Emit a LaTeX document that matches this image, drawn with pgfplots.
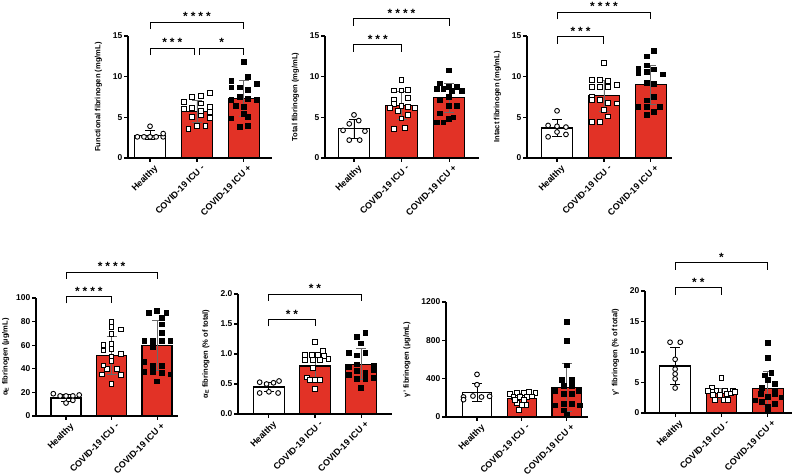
\documentclass[border=0pt]{standalone}
\usepackage{fontspec}
\setmainfont{Liberation Sans}
\usepackage{pgfplots}
\pgfplotsset{compat=1.18}
\definecolor{barred}{RGB}{226,50,38}
\definecolor{errgray}{RGB}{105,105,105}
\newcommand{\stars}[1]{{\fontsize{12}{12}\selectfont\bfseries
  \ifcase#1\or *\or *\kern3pt*\or *\kern3pt*\kern3pt*\or *\kern3pt*\kern3pt*\kern3pt*\fi}}
\pgfplotsset{
  panel/.style={
    scale only axis, clip=false,
    axis x line*=bottom, axis y line*=left,
    axis line style={line width=1.1pt,-},
    every tick/.style={line width=1.1pt,black},
    major tick length=4pt, tick align=outside,
    xtick={0,1,2},
    xticklabels={Healthy,COVID-19 ICU -,COVID-19 ICU +},
    x tick label style={rotate=45,anchor=north east,inner sep=1pt,yshift=-3pt,xshift=2pt,
      font=\fontsize{9}{9}\selectfont\bfseries},
    y tick label style={font=\fontsize{8.5}{9}\selectfont\bfseries,inner sep=1.5pt},
    ylabel style={font=\fontsize{7.6}{9}\selectfont\bfseries,yshift=6pt},
    /pgf/number format/assume math mode=true,
    /pgf/number format/1000 sep={},
    ymin=0,
  },
  hbar/.style={ybar,bar shift=0pt,bar width=0.66,fill=white,draw=black,line width=1.2pt,
    error bars/.cd,y dir=both,y explicit,
    error bar style={line width=0.8pt,black},
    error mark options={rotate=90,mark size=5pt,line width=0.8pt,black}},
  rbar/.style={ybar,bar shift=0pt,bar width=0.66,fill=barred,draw=black,line width=1.2pt,
    error bars/.cd,y dir=both,y explicit,
    error bar style={line width=0.8pt,errgray},
    error mark options={rotate=90,mark size=5pt,line width=0.8pt,errgray}},
  hpts/.style={only marks,mark=*,mark size=2.4pt,mark options={fill=white,draw=black,line width=0.9pt}},
  opts/.style={only marks,mark=square*,mark size=2.4pt,mark options={fill=white,draw=black,line width=0.9pt}},
  fpts/.style={only marks,mark=square*,mark size=2.4pt,mark options={fill=black,draw=black,line width=0.5pt}},
}
\begin{document}
\begin{tikzpicture}
\useasboundingbox (0bp,0bp) rectangle (800bp,475bp);

% ---------- Panel 1: Functional fibrinogen
\begin{axis}[panel, at={(128bp,317bp)}, anchor=south west, width=144bp, height=122bp,
  xmin=-0.47, xmax=2.6, ymax=15, ytick={0,5,10,15},
  ylabel={Functional fibrinogen (mg/mL)}]
\addplot[hbar] coordinates {(0,2.8) +- (0,0.55)};
\addplot[rbar] coordinates {(1,5.7) +- (0,1.35)};
\addplot[rbar] coordinates {(2,7.3) +- (0,2.2)};
\addplot[hpts] coordinates {(-0.27,2.6) (-0.13,2.6) (0,2.6) (0.13,2.6) (0.28,2.6) (0.28,3.0) (0,3.9)};
\addplot[opts] coordinates {(0.72,6.9) (0.9,7.5) (1.09,7.6) (1.28,8.0) (0.72,6.0) (0.9,6.2) (1.09,6.7) (1.28,6.3)
  (0.9,5.0) (1.09,5.3) (1.28,4.9) (0.82,3.6) (1,3.9) (1.18,3.9) (1.09,5.8) (1.28,5.7)};
\addplot[fpts] coordinates {(2,11.8) (1.73,9.5) (2.09,10.0) (2.28,9.1) (1.73,8.7) (1.91,8.7) (2.09,8.4) (1.73,7.2)
  (1.91,7.5) (2.09,7.3) (2.28,7.2) (1.82,6.4) (2,5.4) (2.09,5.1) (1.73,4.9) (1.91,3.8) (2.09,4.0) (2,6.3)};
\draw[line width=1pt] (axis cs:0,15.85) |- (axis cs:2,16.7) -- (axis cs:2,15.85);
\node[anchor=base,yshift=1.5pt] at (axis cs:1,16.7) {\stars{4}};
\draw[line width=1pt] (axis cs:0,12.65) |- (axis cs:0.95,13.5) -- (axis cs:0.95,12.65);
\node[anchor=base,yshift=1.5pt] at (axis cs:0.475,13.5) {\stars{3}};
\draw[line width=1pt] (axis cs:1.05,12.65) |- (axis cs:2,13.5) -- (axis cs:2,12.65);
\node[anchor=base,yshift=1.5pt] at (axis cs:1.525,13.5) {\stars{1}};
\end{axis}

% ---------- Panel 2: Total fibrinogen
\begin{axis}[panel, at={(325bp,317bp)}, anchor=south west, width=154bp, height=122bp,
  xmin=-0.61, xmax=2.63, ymax=15, ytick={0,5,10,15},
  ylabel={Total fibrinogen (mg/mL)}]
\addplot[hbar] coordinates {(0,3.6) +- (0,1.2)};
\addplot[rbar] coordinates {(1,6.5) +- (0,1.7)};
\addplot[rbar] coordinates {(2,7.4) +- (0,1.8)};
\addplot[hpts] coordinates {(0,5.3) (-0.1,4.2) (0.1,4.6) (-0.23,3.4) (0.23,3.3) (-0.1,2.2) (0.12,2.2)};
\addplot[opts] coordinates {(1,9.6) (0.84,8.3) (1,8.3) (1.14,8.4) (1.14,7.4) (0.84,7.1) (0.84,6.6) (1,6.4)
  (0.75,6.2) (1.28,6.2) (1.14,6.3) (1,4.85) (0.84,3.6) (1.07,3.7) (1.14,5.3) (0.93,5.8)};
\addplot[fpts] coordinates {(2,10.8) (1.81,9.2) (2,8.75) (2.16,8.8) (2.27,8.3) (1.74,8.5) (1.88,8.5) (2.06,8.3)
  (2,7.5) (1.81,7.1) (2,6.4) (2.16,6.4) (1.81,5.5) (2,4.85) (1.74,4.4) (1.88,4.4) (2.09,5.0)};
\draw[line width=1pt] (axis cs:0,16.25) |- (axis cs:2,17.1) -- (axis cs:2,16.25);
\node[anchor=base,yshift=1.5pt] at (axis cs:1,17.1) {\stars{4}};
\draw[line width=1pt] (axis cs:0,13.05) |- (axis cs:1,13.9) -- (axis cs:1,13.05);
\node[anchor=base,yshift=1.5pt] at (axis cs:0.5,13.9) {\stars{3}};
\end{axis}

% ---------- Panel 3: Intact fibrinogen
\begin{axis}[panel, at={(527bp,317bp)}, anchor=south west, width=145bp, height=122bp,
  xmin=-0.64, xmax=2.45, ymax=15, ytick={0,5,10,15},
  ylabel={Intact fibrinogen (mg/mL)}]
\addplot[hbar] coordinates {(0,3.7) +- (0,1.1)};
\addplot[rbar] coordinates {(1,7.65) +- (0,1.9)};
\addplot[rbar] coordinates {(2,9.0) +- (0,2.4)};
\addplot[hpts] coordinates {(0,5.8) (-0.19,4.0) (0,3.9) (0.19,3.8) (-0.19,2.6) (0,3.2) (0.19,2.9)};
\addplot[opts] coordinates {(1,11.7) (0.74,9.6) (0.91,9.6) (1.09,9.5) (0.74,8.7) (0.91,8.7) (1.09,8.7) (1.27,9.0)
  (0.74,7.5) (0.74,7.1) (0.91,7.1) (1.09,6.8) (1.27,6.7) (1,5.9) (1.09,5.1) (0.91,4.4) (0.74,4.4)};
\addplot[fpts] coordinates {(2.06,13.2) (1.91,12.5) (1.73,11.0) (1.91,11.4) (2.06,10.9) (1.73,10.5) (1.91,10.6)
  (2.26,10.3) (1.91,9.25) (2.06,9.1) (2.06,7.5) (1.91,7.1) (1.73,6.3) (1.91,6.3) (2.19,6.3) (2.06,5.7) (1.91,5.3)};
\draw[line width=1pt] (axis cs:0,17.05) |- (axis cs:2,17.9) -- (axis cs:2,17.05);
\node[anchor=base,yshift=1.5pt] at (axis cs:1,17.9) {\stars{4}};
\draw[line width=1pt] (axis cs:0,14.05) |- (axis cs:1,14.9) -- (axis cs:1,14.05);
\node[anchor=base,yshift=1.5pt] at (axis cs:0.5,14.9) {\stars{3}};
\end{axis}

% ---------- Panel 4: alpha_E fibrinogen
\begin{axis}[panel, at={(36bp,59bp)}, anchor=south west, width=142bp, height=118bp,
  xmin=-0.66, xmax=2.46, ymax=100, ytick={0,20,40,60,80,100},
  ylabel style={yshift=-4pt},
  ylabel={α\textsubscript{E} fibrinogen (µg/mL)}]
\addplot[hbar] coordinates {(0,15.3) +- (0,3)};
\addplot[rbar] coordinates {(1,51.5) +- (0,16)};
\addplot[rbar] coordinates {(2,60) +- (0,21)};
\addplot[hpts] coordinates {(-0.28,18.9) (-0.13,17) (0,17) (0.15,17) (0.29,17.8) (0,11) (0.15,13.3)};
\addplot[opts] coordinates {(1,79.7) (1,75.4) (1.2,73.4) (1,69.8) (1,61.3) (0.82,59.9) (1,56.5) (0.82,55.6)
  (1.2,52.8) (1,50) (1,46.6) (0.9,40.1) (1.11,40.1) (0.82,42.9) (0.79,35.3) (1.2,34.5) (1,27.4)};
\addplot[fpts] coordinates {(1.82,87.6) (2,89.5) (2.2,87.6) (2.11,83) (2.11,77.7) (2.11,70.3) (1.72,64.1) (1.91,64.1)
  (2.11,64.1) (2.29,64.1) (1.91,58.5) (1.72,45.8) (1.91,42.9) (2.11,42.9) (1.72,37.3) (1.91,37.3) (2.11,36.7)
  (2.29,35.3) (2,29.4)};
\draw[line width=1pt] (axis cs:0,116.5) |- (axis cs:2,122) -- (axis cs:2,116.5);
\node[anchor=base,yshift=1.5pt] at (axis cs:1,122) {\stars{4}};
\draw[line width=1pt] (axis cs:0,95.5) |- (axis cs:1,101) -- (axis cs:1,95.5);
\node[anchor=base,yshift=1.5pt] at (axis cs:0.5,101) {\stars{4}};
\end{axis}

% ---------- Panel 5: alpha_E fibrinogen (% of total)
\begin{axis}[panel, at={(238bp,61bp)}, anchor=south west, width=154bp, height=120bp,
  xmin=-0.67, xmax=2.67, ymax=2, ytick={0,0.5,1,1.5,2},
  yticklabel style={/pgf/number format/fixed,/pgf/number format/fixed zerofill,/pgf/number format/precision=1},
  ylabel={α\textsubscript{E} fibrinogen (\% of total)}]
\addplot[hbar] coordinates {(0,0.45) +- (0,0.08)};
\addplot[rbar] coordinates {(1,0.8) +- (0,0.21)};
\addplot[rbar] coordinates {(2,0.83) +- (0,0.26)};
\addplot[hpts] coordinates {(-0.2,0.53) (-0.05,0.50) (0.1,0.52) (0.22,0.55) (-0.2,0.35) (0,0.37) (0.2,0.35)};
\addplot[opts] coordinates {(1,1.2) (1.18,1.05) (0.78,0.98) (0.93,0.98) (1.07,0.98) (1.2,0.97) (1.29,0.92)
  (0.78,0.9) (0.95,0.9) (1.1,0.9) (0.95,0.77) (0.82,0.61) (1,0.57) (0.89,0.57) (1.11,0.57) (1,0.42)};
\addplot[fpts] coordinates {(2.09,1.36) (1.91,1.29) (2,1.18) (1.73,1.02) (1.91,0.98) (2.09,1.02) (1.73,0.79)
  (1.91,0.83) (2.28,0.81) (1.73,0.66) (1.91,0.72) (2.09,0.69) (2.28,0.74) (1.91,0.59) (2.09,0.59) (2.28,0.6) (2,0.44)};
\draw[line width=1pt] (axis cs:0,1.89) |- (axis cs:2,2.0) -- (axis cs:2,1.89);
\node[anchor=base,yshift=1.5pt] at (axis cs:1,2.0) {\stars{2}};
\draw[line width=1pt] (axis cs:0,1.46) |- (axis cs:1,1.57) -- (axis cs:1,1.46);
\node[anchor=base,yshift=1.5pt] at (axis cs:0.5,1.57) {\stars{2}};
\end{axis}

% ---------- Panel 6: gamma' fibrinogen
\begin{axis}[panel, at={(446bp,58bp)}, anchor=south west, width=142bp, height=115bp,
  xmin=-0.69, xmax=2.47, ymax=1200, ytick={0,400,800,1200},
  ylabel={γ' fibrinogen (µg/mL)}]
\addplot[hbar] coordinates {(0,259) +- (0,95)};
\addplot[rbar] coordinates {(1,196) +- (0,55)};
\addplot[rbar] coordinates {(2,305) +- (0,250)};
\addplot[hpts] coordinates {(0,445) (0,337) (-0.3,209) (-0.09,219) (0.1,209) (0.28,216) (-0.3,181)};
\addplot[opts] coordinates {(0.74,237) (0.89,250) (1.04,250) (1.15,260) (1.3,250) (0.81,209) (0.96,209) (1.11,209)
  (1.22,215) (0.89,146) (1,122) (1.1,128) (0.93,70) (0.85,181) (1.04,181)};
\addplot[fpts] coordinates {(2,998) (2,793) (2,539) (1.89,390) (2.11,390) (2.11,330) (1.93,330) (1.74,278)
  (1.93,243) (2.11,243) (2.26,271) (1.74,122) (2.28,122) (1.93,139) (2.11,139) (2,28) (1.93,70)};
\end{axis}

% ---------- Panel 7: gamma' fibrinogen (% of total)
\begin{axis}[panel, at={(645bp,62bp)}, anchor=south west, width=147bp, height=122bp,
  xmin=-0.65, xmax=2.52, ymax=20, ytick={0,5,10,15,20},
  ylabel={γ' fibrinogen (\% of total)}]
\addplot[hbar] coordinates {(0,7.7) +- (0,3.0)};
\addplot[rbar] coordinates {(1,3.2) +- (0,0.9)};
\addplot[rbar] coordinates {(2,4.0) +- (0,2.9)};
\addplot[hpts] coordinates {(-0.11,11.6) (0.11,11.6) (0,8.8) (0,7.2) (0,6.4) (0,5.6) (0,4.1)};
\addplot[opts] coordinates {(1,5.7) (0.79,4.2) (0.71,3.6) (0.89,3.6) (1.07,3.6) (1.25,3.6) (0.82,2.9) (0.96,2.9)
  (1.11,3.1) (1.21,3.2) (0.86,2.1) (1.04,2.1) (1.14,2.1) (1.29,3.4)};
\addplot[fpts] coordinates {(2,11.5) (2,9.0) (1.93,6.2) (2.07,6.6) (2,5.4) (1.86,4.2) (2.14,4.8) (2.14,3.7)
  (1.84,3.1) (2,2.7) (2.29,2.6) (1.71,2.1) (1.86,1.8) (2.14,1.5) (2,1.1) (2,0.4) (2.14,3.1)};
\draw[line width=1pt] (axis cs:0,23.45) |- (axis cs:2,24.6) -- (axis cs:2,23.45);
\node[anchor=base,yshift=1.5pt] at (axis cs:1,24.6) {\stars{1}};
\draw[line width=1pt] (axis cs:0,19.35) |- (axis cs:1,20.5) -- (axis cs:1,19.35);
\node[anchor=base,yshift=1.5pt] at (axis cs:0.5,20.5) {\stars{2}};
\end{axis}
\end{tikzpicture}
\end{document}
